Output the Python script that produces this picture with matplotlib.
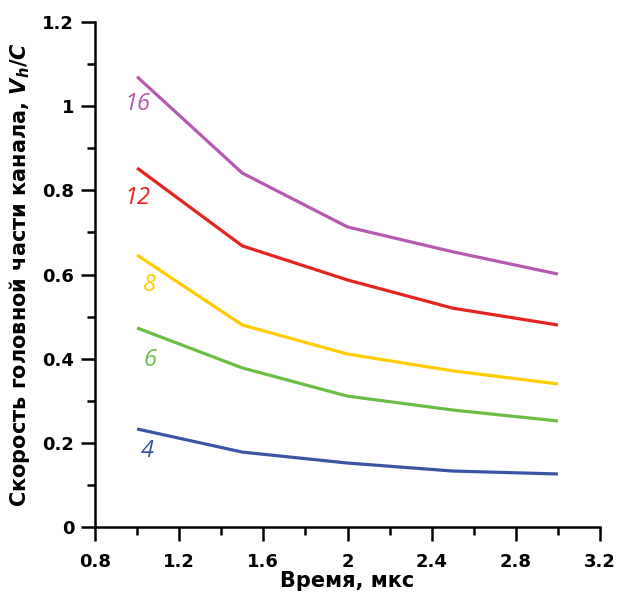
import matplotlib
matplotlib.use("Agg")
import matplotlib.pyplot as plt
from matplotlib.ticker import MultipleLocator

plt.rcParams['font.family'] = ['DejaVu Sans']
plt.rcParams['mathtext.fontset'] = 'custom'
plt.rcParams['mathtext.it'] = 'DejaVu Sans:italic:bold'
plt.rcParams['mathtext.rm'] = 'DejaVu Sans:bold'

time = [1.0, 1.5, 2.0, 2.5, 3.0]
series_labels = ["16", "12", "8", "6", "4"]
v16 = [1.07, 0.841, 0.713, 0.654, 0.601]
v12 = [0.853, 0.668, 0.587, 0.520, 0.480]
v8 = [0.646, 0.480, 0.411, 0.371, 0.340]
v6 = [0.473, 0.378, 0.311, 0.278, 0.252]
v4 = [0.233, 0.178, 0.152, 0.133, 0.126]
label_x = [1.0, 1.0, 1.06, 1.06, 1.05]
label_y = [1.005, 0.782, 0.575, 0.397, 0.18]
colors = ["#B55AB0", "#E5231F", "#FFCC00", "#6BBE45", "#3A55A4"]

fig = plt.figure(figsize=(6.18, 5.96), dpi=100)
ax = fig.add_axes([95/618, 1 - 527/596, (600-95)/618, (527-22)/596])

for vals, lab, lx, ly, c in zip([v16, v12, v8, v6, v4], series_labels, label_x, label_y, colors):
    ax.plot(time, vals, color=c, lw=2.3, solid_capstyle='butt')
    ax.text(lx, ly, lab, color=c, fontsize=17, style='italic', family='Open Sans',
            ha='center', va='center')

ax.set_xlim(0.8, 3.2)
ax.set_ylim(0, 1.2)
ax.xaxis.set_minor_locator(MultipleLocator(0.2))
ax.yaxis.set_minor_locator(MultipleLocator(0.1))
ax.set_xticks([0.8, 1.2, 1.6, 2.0, 2.4, 2.8, 3.2])
ax.set_xticklabels(["0.8", "1.2", "1.6", "2", "2.4", "2.8", "3.2"])
ax.set_yticks([0, 0.2, 0.4, 0.6, 0.8, 1.0, 1.2])
ax.set_yticklabels(["0", "0.2", "0.4", "0.6", "0.8", "1", "1.2"])
for s in ['top', 'right']:
    ax.spines[s].set_visible(False)
for s in ['left', 'bottom']:
    ax.spines[s].set_linewidth(1.8)
ax.tick_params(which='major', length=10, width=1.8, labelsize=13, direction='out')
ax.tick_params(axis='y', which='major', pad=5)
ax.tick_params(axis='x', which='major', pad=9)
ax.tick_params(which='minor', length=6, width=1.8, direction='out')
for t in ax.get_xticklabels() + ax.get_yticklabels():
    t.set_fontweight('bold')

ax.set_xlabel("Время, мкс", fontsize=15, fontweight='bold', labelpad=0)
ax.set_ylabel("Скорость головной части канала, $V_h/C$", fontsize=15, fontweight='bold', labelpad=7)

fig.savefig("out.png", dpi=100)
